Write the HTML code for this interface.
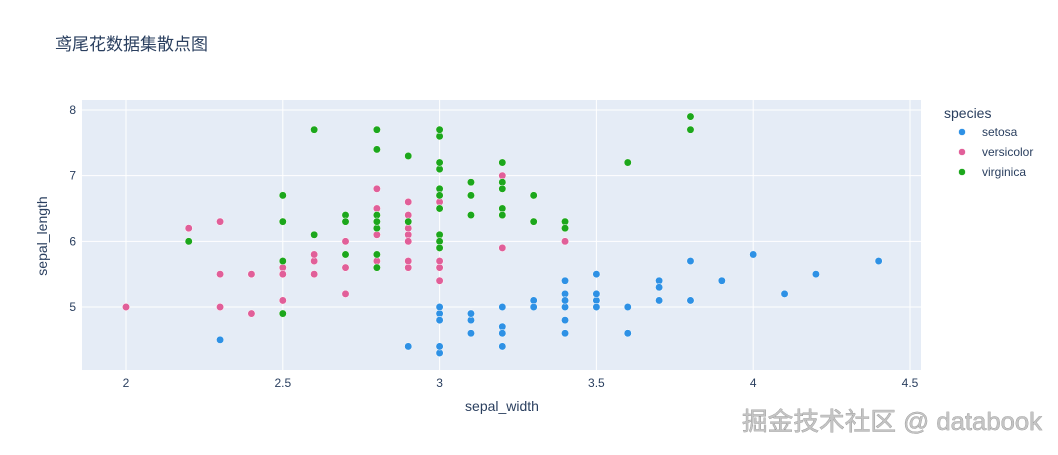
<!DOCTYPE html>
<html><head><meta charset="utf-8"><style>
body{margin:0;background:#fff;width:1058px;height:450px;overflow:hidden;font-family:"Liberation Sans","Noto Sans CJK SC",sans-serif}
</style></head><body>
<svg id="s" width="1058" height="450" xmlns="http://www.w3.org/2000/svg" font-family="Liberation Sans, Noto Sans CJK SC, sans-serif">
<rect x="82" y="100" width="839" height="270" fill="#e5ecf6"/>
<g id="grid" stroke="#fff" stroke-width="1"></g>
<g id="pts"></g>
<g fill="#2a3f5f" font-size="12" id="ticks"></g>
<text x="55" y="50" font-size="17" fill="#2a3f5f">鸢尾花数据集散点图</text>
<text x="502" y="411" font-size="14" fill="#2a3f5f" text-anchor="middle">sepal_width</text>
<text transform="translate(47,236) rotate(-90)" font-size="14" fill="#2a3f5f" text-anchor="middle">sepal_length</text>
<text x="944" y="118" font-size="14" fill="#2a3f5f">species</text>
<circle cx="962" cy="132" r="3.5" fill="#2E91E5" stroke="#fff" stroke-width="0.5"/>
<text x="982" y="136" font-size="12" fill="#2a3f5f">setosa</text>
<circle cx="962" cy="152" r="3.5" fill="#E15F99" stroke="#fff" stroke-width="0.5"/>
<text x="982" y="156" font-size="12" fill="#2a3f5f">versicolor</text>
<circle cx="962" cy="172" r="3.5" fill="#1CA71C" stroke="#fff" stroke-width="0.5"/>
<text x="982" y="176" font-size="12" fill="#2a3f5f">virginica</text>
<text x="742" y="430" font-size="25" textLength="300" lengthAdjust="spacingAndGlyphs" fill="#c4c4c4" stroke="#777" stroke-width="0.5" paint-order="stroke">掘金技术社区 @ databook</text>
</svg>
<script>
var X=function(v){return 126+(v-2)*313.6},Y=function(v){return 110+(8-v)*65.67};
var ns="http://www.w3.org/2000/svg";
function el(p,t,a,txt){var e=document.createElementNS(ns,t);for(var k in a)e.setAttribute(k,a[k]);if(txt)e.textContent=txt;p.appendChild(e);}
var g=document.getElementById('grid'),tk=document.getElementById('ticks');
[2,2.5,3,3.5,4,4.5].forEach(function(v){el(g,'line',{x1:X(v),x2:X(v),y1:100,y2:370});el(tk,'text',{x:X(v),y:387,'text-anchor':'middle'},String(v));});
[5,6,7,8].forEach(function(v){el(g,'line',{x1:82,x2:921,y1:Y(v),y2:Y(v)});el(tk,'text',{x:76,y:Y(v)+4,'text-anchor':'end'},String(v));});
var d={
"#2E91E5":"5.1,3.5 4.9,3.0 4.7,3.2 4.6,3.1 5.0,3.6 5.4,3.9 4.6,3.4 5.0,3.4 4.4,2.9 4.9,3.1 5.4,3.7 4.8,3.4 4.8,3.0 4.3,3.0 5.8,4.0 5.7,4.4 5.4,3.9 5.1,3.5 5.7,3.8 5.1,3.8 5.4,3.4 5.1,3.7 4.6,3.6 5.1,3.3 4.8,3.4 5.0,3.0 5.0,3.4 5.2,3.5 5.2,3.4 4.7,3.2 4.8,3.1 5.4,3.4 5.2,4.1 5.5,4.2 4.9,3.1 5.0,3.2 5.5,3.5 4.9,3.1 4.4,3.0 5.1,3.4 5.0,3.5 4.5,2.3 4.4,3.2 5.0,3.5 5.1,3.8 4.8,3.0 5.1,3.8 4.6,3.2 5.3,3.7 5.0,3.3",
"#E15F99":"7.0,3.2 6.4,3.2 6.9,3.1 5.5,2.3 6.5,2.8 5.7,2.8 6.3,3.3 4.9,2.4 6.6,2.9 5.2,2.7 5.0,2.0 5.9,3.0 6.0,2.2 6.1,2.9 5.6,2.9 6.7,3.1 5.6,3.0 5.8,2.7 6.2,2.2 5.6,2.5 5.9,3.2 6.1,2.8 6.3,2.5 6.1,2.8 6.4,2.9 6.6,3.0 6.8,2.8 6.7,3.0 6.0,2.9 5.7,2.6 5.5,2.4 5.5,2.4 5.8,2.7 6.0,2.7 5.4,3.0 6.0,3.4 6.7,3.1 6.3,2.3 5.6,3.0 5.5,2.5 5.5,2.6 6.1,3.0 5.8,2.6 5.0,2.3 5.6,2.7 5.7,3.0 5.7,2.9 6.2,2.9 5.1,2.5 5.7,2.8",
"#1CA71C":"6.3,3.3 5.8,2.7 7.1,3.0 6.3,2.9 6.5,3.0 7.6,3.0 4.9,2.5 7.3,2.9 6.7,2.5 7.2,3.6 6.5,3.2 6.4,2.7 6.8,3.0 5.7,2.5 5.8,2.8 6.4,3.2 6.5,3.0 7.7,3.8 7.7,2.6 6.0,2.2 6.9,3.2 5.6,2.8 7.7,2.8 6.3,2.7 6.7,3.3 7.2,3.2 6.2,2.8 6.1,3.0 6.4,2.8 7.2,3.0 7.4,2.8 7.9,3.8 6.4,2.8 6.3,2.8 6.1,2.6 7.7,3.0 6.3,3.4 6.4,3.1 6.0,3.0 6.9,3.1 6.7,3.1 6.9,3.1 5.8,2.7 6.8,3.2 6.7,3.3 6.7,3.0 6.3,2.5 6.5,3.0 6.2,3.4 5.9,3.0"};
var p=document.getElementById('pts');
for(var c in d)d[c].split(' ').forEach(function(s){var a=s.split(',');el(p,'circle',{cx:X(+a[1]),cy:Y(+a[0]),r:3.7,fill:c,stroke:'#fff','stroke-width':0.5});});
</script>
</body></html>
